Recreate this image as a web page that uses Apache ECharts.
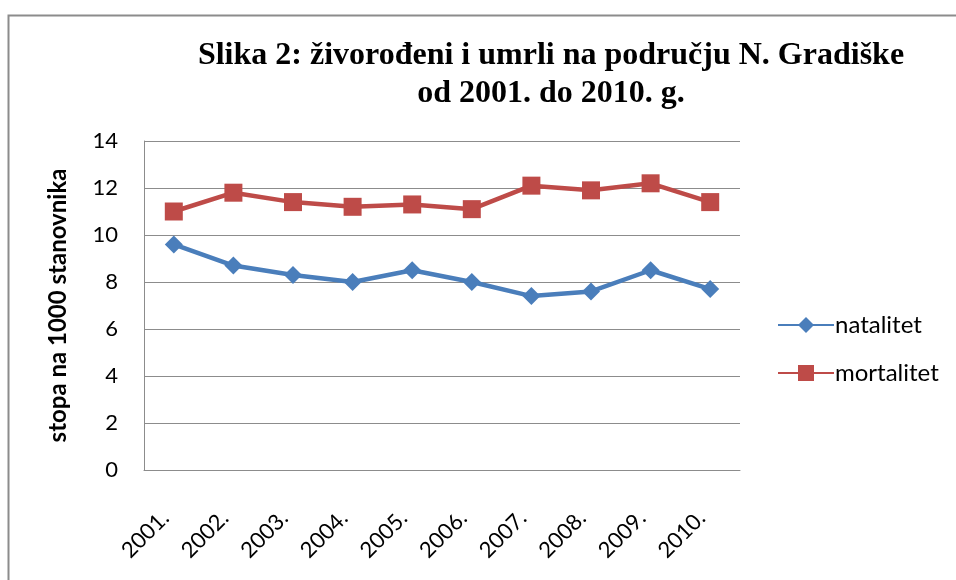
<!DOCTYPE html>
<html>
<head>
<meta charset="utf-8">
<script src="https://cdn.jsdelivr.net/npm/echarts@6/dist/echarts.min.js"></script>
<style>
  html, body { margin: 0; padding: 0; background: #fff; }
  #chart { width: 956px; height: 580px; }
</style>
</head>
<body>
<div id="chart"></div>
<script>
  // podaci očitani sa slike (stopa na 1000 stanovnika)
  const years = ["2001.", "2002.", "2003.", "2004.", "2005.", "2006.", "2007.", "2008.", "2009.", "2010."];
  const natalitet = [9.6, 8.7, 8.3, 8.0, 8.5, 8.0, 7.4, 7.6, 8.5, 7.7];
  const mortalitet = [11.0, 11.8, 11.4, 11.2, 11.3, 11.1, 12.1, 11.9, 12.2, 11.4];
  const yTicks = [0, 14, 2]; // min, max, interval

  const BLUE = "#4A7EBB";
  const RED = "#BE4B48";
  const SANS = "Lato, 'Open Sans', sans-serif";

  const chart = echarts.init(document.getElementById("chart"), null, { renderer: "canvas" });

  chart.setOption({
    animation: false,
    backgroundColor: "#FFFFFF",
    graphic: [{
      type: "rect", left: 6, top: 13,
      shape: { width: 970, height: 600 },
      style: { fill: "none", stroke: "#8C8C8C", lineWidth: 2 },
      silent: true,
    }],
    title: {
      text: "Slika 2: živorođeni i umrli na području N. Gradiške\nod 2001. do 2010. g.",
      left: 546, top: 32, textAlign: "center",
      textStyle: {
        fontFamily: "'Liberation Serif', 'DejaVu Serif', serif",
        fontWeight: "bold", fontSize: 32, lineHeight: 38, color: "#000",
        align: "center",
      },
    },
    legend: {
      orient: "vertical", left: 772, top: 308,
      itemWidth: 56, itemHeight: 20, itemGap: 24,
      textStyle: { fontFamily: SANS, fontSize: 24, color: "#000", padding: [0, 0, 0, -4] },
      data: ["natalitet", "mortalitet"],
    },
    grid: { left: 144, right: 216, top: 141, bottom: 110, containLabel: false },
    xAxis: {
      type: "category", data: years, boundaryGap: true,
      axisLine: { lineStyle: { color: "#8C8C8C", width: 1 } },
      axisTick: { show: false },
      axisLabel: { rotate: 45, margin: 36, padding: [0, 12, 0, 0],
                   fontFamily: SANS, fontSize: 22, color: "#000" },
    },
    yAxis: {
      type: "value", min: yTicks[0], max: yTicks[1], interval: yTicks[2],
      name: "stopa na 1000 stanovnika", nameLocation: "middle", nameGap: 74,
      nameTextStyle: { fontFamily: SANS, fontSize: 24, fontWeight: "bold", color: "#000" },
      axisLine: { show: true, lineStyle: { color: "#8C8C8C", width: 1 } },
      axisTick: { show: false },
      axisLabel: { margin: 26, fontFamily: SANS, fontSize: 22, color: "#000" },
      splitLine: { lineStyle: { color: "#8C8C8C", width: 1 } },
    },
    series: [
      {
        name: "natalitet", type: "line", data: natalitet,
        symbol: "diamond", symbolSize: 18,
        lineStyle: { color: BLUE, width: 4.5 },
        itemStyle: { color: BLUE },
      },
      {
        name: "mortalitet", type: "line", data: mortalitet,
        symbol: "rect", symbolSize: 18,
        lineStyle: { color: RED, width: 4.5 },
        itemStyle: { color: RED },
      },
    ],
  });
</script>
</body>
</html>
